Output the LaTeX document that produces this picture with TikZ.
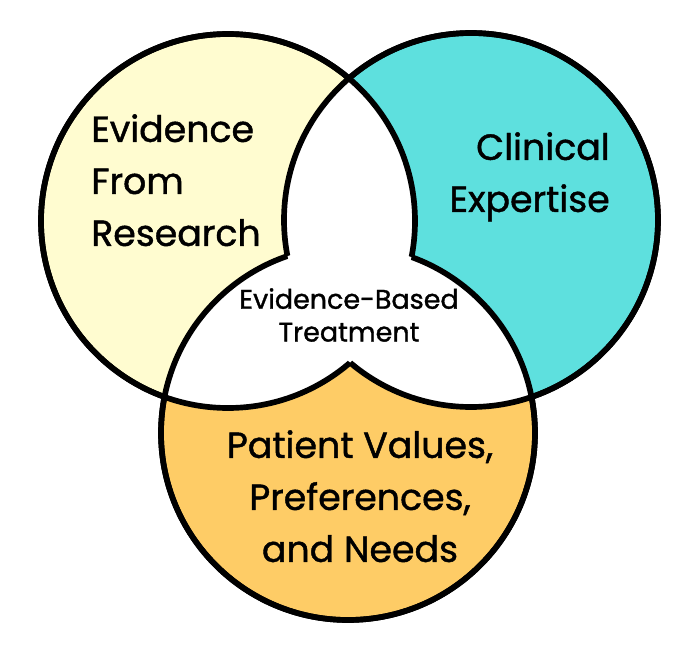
\documentclass[tikz,border=0pt]{standalone}
\usepackage{fontspec}
\setmainfont{Poppins}[FakeBold=1.2]
\usepackage{tikz}
\definecolor{softyellow}{RGB}{255,252,208}
\definecolor{softcyan}{RGB}{94,224,222}
\definecolor{softorange}{RGB}{254,204,102}
\newcommand{\vennrad}{187}
\newcommand{\circlefont}{\fontsize{31}{44.4}\selectfont}
\newcommand{\corefont}{\fontsize{23}{28}\selectfont}

\begin{document}
\begin{tikzpicture}[x=0.3mm, y=-0.3mm, every node/.style={inner sep=0pt}, ring/.style={line width=1.7mm}]
  \useasboundingbox (0,0) rectangle (690,645);
  \coordinate (research) at (228,221);
  \coordinate (clinical) at (471,220);
  \coordinate (patient) at (348,433);
  \fill[softyellow] (research) circle (\vennrad);
  \fill[softcyan] (clinical) circle (\vennrad);
  \fill[softorange] (patient) circle (\vennrad);
  \begin{scope}
    \clip (research) circle (\vennrad);
    \fill[white] (clinical) circle (\vennrad) (patient) circle (\vennrad);
  \end{scope}
  \begin{scope}
    \clip (clinical) circle (\vennrad);
    \fill[white] (patient) circle (\vennrad);
  \end{scope}
  \foreach \c/\o in {research/clinical, research/patient, clinical/research, clinical/patient, patient/research, patient/clinical} {
    \begin{scope}[even odd rule]
      \clip (-20,-20) rectangle (710,665) (\o) circle (\vennrad);
      \draw[ring] (\c) circle (\vennrad);
    \end{scope}
  }
  \node[anchor=north west, align=left, font=\circlefont] (researchtext) at (91,114) {Evidence\\From\\Research};
  \node[anchor=north east, align=right, font=\circlefont] (clinicaltext) at (610,132) {Clinical\\Expertise};
  \node[anchor=north, align=center, font=\corefont] (ebttext) at (349,288) {Evidence-Based\\Treatment};
  \node[anchor=north, align=center, font=\circlefont] (patienttext) at (360,430) {Patient Values,\\Preferences,\\and Needs};
\end{tikzpicture}
\end{document}
